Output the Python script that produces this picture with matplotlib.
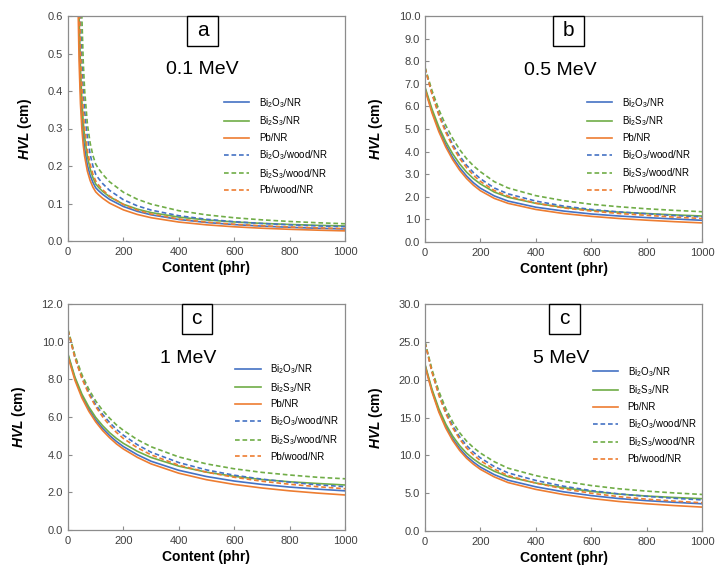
import matplotlib
matplotlib.use("Agg")
import matplotlib.pyplot as plt
from matplotlib.patches import Rectangle

plt.rcParams['font.family'] = ['Liberation Sans', 'DejaVu Sans']
plt.rcParams['mathtext.fontset'] = 'custom'
plt.rcParams['mathtext.rm'] = 'Liberation Sans'
plt.rcParams['mathtext.it'] = 'Liberation Sans:italic'
plt.rcParams['mathtext.bf'] = 'Liberation Sans:bold'
plt.rcParams['mathtext.bfit'] = 'Liberation Sans:italic:bold'

# ---------------- data ----------------
series_labels = ['Bi$_2$O$_3$/NR', 'Bi$_2$S$_3$/NR', 'Pb/NR',
                 'Bi$_2$O$_3$/wood/NR', 'Bi$_2$S$_3$/wood/NR', 'Pb/wood/NR']

# panel a (0.1 MeV)
content_a = [37, 40, 45, 50, 55, 60, 70, 80, 90, 100, 110, 125, 150, 200, 250, 300, 400, 500, 600, 700, 800, 900, 1000]
a_bi2o3 = [0.716, 0.556, 0.412, 0.333, 0.282, 0.247, 0.202, 0.175, 0.156, 0.142, 0.1343, 0.1244, 0.1110, 0.0920, 0.0791, 0.0699, 0.0574, 0.0494, 0.0438, 0.0397, 0.0365, 0.0340, 0.0320]
a_bi2s3 = [0.745, 0.600, 0.458, 0.373, 0.317, 0.278, 0.225, 0.192, 0.169, 0.152, 0.1433, 0.1323, 0.1179, 0.0980, 0.0850, 0.0758, 0.0637, 0.0561, 0.0508, 0.0470, 0.0441, 0.0418, 0.0400]
a_pb = [0.600, 0.480, 0.366, 0.300, 0.256, 0.226, 0.186, 0.161, 0.1435, 0.131, 0.1236, 0.114, 0.101, 0.083, 0.0708, 0.0621, 0.0505, 0.0431, 0.0379, 0.0341, 0.0312, 0.0289, 0.0270]
a_bi2o3_w = [1.03, 0.810, 0.600, 0.480, 0.402, 0.347, 0.276, 0.231, 0.200, 0.178, 0.1671, 0.1532, 0.1350, 0.1100, 0.0938, 0.0824, 0.0674, 0.0579, 0.0515, 0.0467, 0.0432, 0.0403, 0.0381]
a_bi2s3_w = [2.52, 1.40, 0.827, 0.600, 0.478, 0.402, 0.312, 0.261, 0.228, 0.205, 0.1931, 0.1780, 0.1579, 0.1300, 0.1114, 0.0983, 0.0808, 0.0697, 0.0620, 0.0564, 0.0521, 0.0487, 0.0460]
a_pb_w = [0.867, 0.683, 0.509, 0.410, 0.345, 0.300, 0.241, 0.204, 0.178, 0.160, 0.1496, 0.1366, 0.1198, 0.0970, 0.0823, 0.0720, 0.0587, 0.0504, 0.0447, 0.0405, 0.0374, 0.0350, 0.0330]

# panels b, c, d share content grid
content = [0, 25, 50, 75, 100, 125, 150, 175, 200, 250, 300, 400, 500, 600, 700, 800, 900, 1000]

# panel b (0.5 MeV)
b_bi2o3 = [6.80, 5.79, 4.97, 4.30, 3.74, 3.29, 2.92, 2.62, 2.38, 2.04, 1.81, 1.54, 1.37, 1.24, 1.15, 1.08, 1.02, 0.96]
b_bi2s3 = [6.85, 5.89, 5.09, 4.44, 3.90, 3.46, 3.09, 2.80, 2.57, 2.21, 1.98, 1.71, 1.53, 1.41, 1.32, 1.26, 1.20, 1.15]
b_pb = [6.75, 5.72, 4.88, 4.20, 3.64, 3.18, 2.81, 2.51, 2.27, 1.93, 1.71, 1.44, 1.26, 1.135, 1.04, 0.965, 0.90, 0.845]
b_bi2o3_w = [7.70, 6.59, 5.68, 4.94, 4.32, 3.81, 3.40, 3.07, 2.80, 2.39, 2.13, 1.81, 1.59, 1.44, 1.33, 1.25, 1.17, 1.11]
b_bi2s3_w = [7.73, 6.71, 5.86, 5.16, 4.58, 4.09, 3.69, 3.37, 3.11, 2.67, 2.39, 2.05, 1.83, 1.67, 1.56, 1.47, 1.40, 1.34]
b_pb_w = [7.70, 6.55, 5.61, 4.85, 4.22, 3.70, 3.29, 2.95, 2.68, 2.28, 2.03, 1.72, 1.51, 1.37, 1.26, 1.18, 1.10, 1.04]

# panel c (1 MeV)
c_bi2o3 = [9.29, 8.05, 7.13, 6.42, 5.85, 5.40, 5.02, 4.70, 4.43, 4.00, 3.65, 3.17, 2.84, 2.60, 2.42, 2.28, 2.17, 2.08]
c_bi2s3 = [9.34, 8.12, 7.22, 6.54, 5.98, 5.54, 5.17, 4.86, 4.60, 4.18, 3.85, 3.39, 3.07, 2.85, 2.68, 2.56, 2.47, 2.39]
c_pb = [9.20, 7.95, 7.02, 6.31, 5.74, 5.28, 4.90, 4.57, 4.30, 3.86, 3.51, 3.015, 2.67, 2.42, 2.23, 2.08, 1.96, 1.86]
c_bi2o3_w = [10.60, 9.17, 8.12, 7.31, 6.66, 6.14, 5.71, 5.34, 5.03, 4.53, 4.13, 3.58, 3.19, 2.91, 2.70, 2.54, 2.40, 2.30]
c_bi2s3_w = [10.65, 9.28, 8.26, 7.48, 6.85, 6.35, 5.94, 5.58, 5.29, 4.80, 4.42, 3.88, 3.51, 3.25, 3.06, 2.92, 2.80, 2.72]
c_pb_w = [10.60, 9.13, 8.05, 7.22, 6.55, 6.01, 5.56, 5.18, 4.86, 4.37, 3.99, 3.44, 3.07, 2.80, 2.59, 2.43, 2.30, 2.19]

# panel d (5 MeV)
d_bi2o3 = [21.91, 18.56, 15.90, 13.82, 12.19, 10.90, 9.88, 9.10, 8.44, 7.45, 6.71, 5.84, 5.18, 4.68, 4.29, 4.01, 3.79, 3.60]
d_bi2s3 = [22.02, 18.76, 16.16, 14.13, 12.54, 11.28, 10.28, 9.51, 8.87, 7.90, 7.17, 6.34, 5.72, 5.24, 4.88, 4.62, 4.43, 4.27]
d_pb = [21.80, 18.40, 15.70, 13.60, 11.95, 10.65, 9.62, 8.82, 8.15, 7.15, 6.40, 5.50, 4.82, 4.30, 3.90, 3.60, 3.36, 3.16]
d_bi2o3_w = [24.90, 21.11, 18.10, 15.75, 13.90, 12.45, 11.30, 10.40, 9.66, 8.52, 7.68, 6.68, 5.92, 5.34, 4.90, 4.58, 4.32, 4.11]
d_bi2s3_w = [25.00, 21.37, 18.47, 16.20, 14.41, 12.99, 11.88, 11.02, 10.30, 9.16, 8.30, 7.32, 6.57, 6.01, 5.58, 5.27, 5.03, 4.83]
d_pb_w = [24.90, 21.01, 17.92, 15.52, 13.63, 12.15, 10.97, 10.05, 9.29, 8.17, 7.33, 6.33, 5.57, 4.99, 4.54, 4.21, 3.95, 3.73]

panel_letters = ['a', 'b', 'c', 'c']
energies = ['0.1 MeV', '0.5 MeV', '1 MeV', '5 MeV']
y_max = [0.6, 10.0, 12.0, 30.0]
y_step = [0.1, 1.0, 2.0, 5.0]
x_ticks = [0, 200, 400, 600, 800, 1000]

# ---------------- style ----------------
colors = ['#4472C4', '#70AD47', '#ED7D31', '#4472C4', '#70AD47', '#ED7D31']
styles = ['-', '-', '-', '--', '--', '--']

fig = plt.figure(figsize=(7.28, 5.76), dpi=100)
W, H = 728.0, 576.0
boxes_px = [(68, 16, 345, 241), (425, 16, 702, 242), (68, 304, 345, 530), (425, 304, 702, 531)]
letter_box = [(0.430, 0.542), (0.462, 0.573), (0.410, 0.519), (0.448, 0.560)]
energy_pos = [(0.484, 0.76), (0.49, 0.76), (0.434, 0.761), (0.49, 0.762)]
legend_pos = [(0.563, 0.645), (0.584, 0.647), (0.604, 0.743), (0.605, 0.732)]

panel_data = [
    (content_a, [a_bi2o3, a_bi2s3, a_pb, a_bi2o3_w, a_bi2s3_w, a_pb_w]),
    (content, [b_bi2o3, b_bi2s3, b_pb, b_bi2o3_w, b_bi2s3_w, b_pb_w]),
    (content, [c_bi2o3, c_bi2s3, c_pb, c_bi2o3_w, c_bi2s3_w, c_pb_w]),
    (content, [d_bi2o3, d_bi2s3, d_pb, d_bi2o3_w, d_bi2s3_w, d_pb_w]),
]

spine_col = '#8c8c8c'
for i, (l, t, r, b) in enumerate(boxes_px):
    ax = fig.add_axes([l / W, 1 - b / H, (r - l) / W, (b - t) / H])
    xs, ys_list = panel_data[i]
    for ys, col, ls, lab in zip(ys_list, colors, styles, series_labels):
        line, = ax.plot(xs, ys, color=col, linestyle=ls, lw=1.2, label=lab)
        if ls == '--':
            line.set_dashes((2.8, 1.7))
    ax.set_xlim(0, 1000)
    ax.set_ylim(0, y_max[i])
    n = int(round(y_max[i] / y_step[i]))
    yt = [k * y_step[i] for k in range(n + 1)]
    ax.set_yticks(yt)
    ax.set_yticklabels([f'{v:.1f}' for v in yt])
    ax.set_xticks(x_ticks)
    ax.tick_params(direction='in', length=3, width=0.8, color=spine_col,
                   labelsize=8, labelcolor='#404040')
    ax.tick_params(axis='x', pad=4)
    ax.tick_params(axis='y', pad=3.5)
    for sp in ax.spines.values():
        sp.set_color(spine_col)
        sp.set_linewidth(0.9)
    ax.set_xlabel('Content (phr)', fontsize=10, fontweight='bold', labelpad=3.5)
    ax.set_ylabel(r'$\bfit{HVL}$ (cm)', fontsize=10, fontweight='bold', labelpad=10)

    x0, x1 = letter_box[i]
    ax.add_patch(Rectangle((x0, 0.868), x1 - x0, 0.132, transform=ax.transAxes,
                           facecolor='white', edgecolor='black', lw=1.0,
                           clip_on=False, zorder=5))
    ax.text((x0 + x1) / 2, 0.934, panel_letters[i], transform=ax.transAxes,
            ha='center', va='center', fontsize=15, zorder=6)
    ex, ey = energy_pos[i]
    ax.text(ex, ey, energies[i], transform=ax.transAxes, ha='center',
            va='center', fontsize=14)
    lx, ly = legend_pos[i]
    ax.legend(loc='upper left', bbox_to_anchor=(lx, ly), frameon=False,
              fontsize=7, handlelength=2.6, handletextpad=1.0,
              labelspacing=0.5, borderpad=0, borderaxespad=0)

fig.savefig('out.png', dpi=100)
